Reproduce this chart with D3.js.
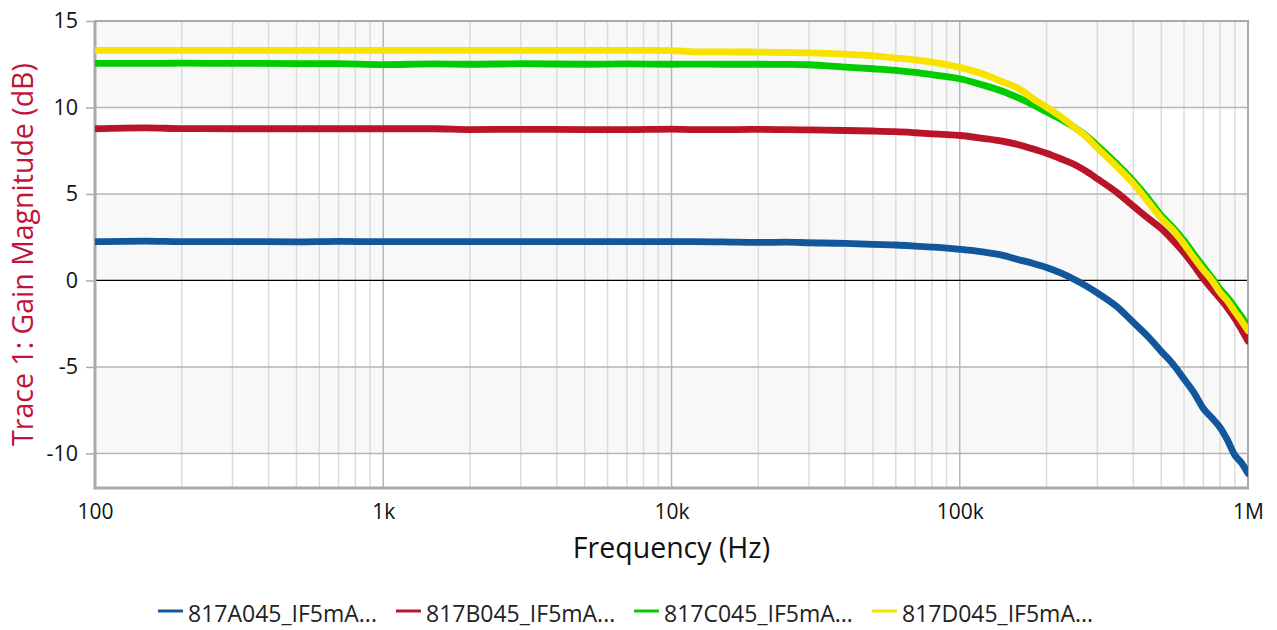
<!DOCTYPE html>
<html>
<head>
<meta charset="utf-8">
<script src="https://cdn.jsdelivr.net/npm/d3@7"></script>
<style>
  body { margin: 0; background: #fff; }
  text { font-family: "Open Sans", "Noto Sans", sans-serif; }
</style>
</head>
<body>
<div id="chart"></div>
<script>
var svgWidth = 1277;
var svgHeight = 630;

var margin = { top: 21, right: 29, bottom: 142, left: 95 };
var width = svgWidth - margin.left - margin.right;
var height = svgHeight - margin.top - margin.bottom;

// frequency points (Hz)
var freqs = [100, 150, 200, 300, 500, 700, 1e3, 1.5e3, 2e3, 3e3, 5e3, 7e3, 1e4, 1.2e4, 1.5e4, 2e4, 2.5e4, 3e4,
  4e4, 5e4, 6e4, 7e4, 8e4, 9e4, 1e5, 1.2e5, 1.4e5, 1.6e5, 1.8e5, 2e5, 2.25e5, 2.5e5, 2.75e5, 3e5,
  3.5e5, 4e5, 4.5e5, 5e5, 5.5e5, 6e5, 6.5e5, 7e5, 7.5e5, 8e5, 8.5e5, 9e5, 9.5e5, 1e6];

// gain (dB) per trace
var gainA = [2.24, 2.27, 2.24, 2.25, 2.23, 2.26, 2.24, 2.25, 2.25, 2.24, 2.25, 2.24, 2.24, 2.24, 2.23, 2.2, 2.21, 2.18,
  2.14, 2.08, 2.05, 1.99, 1.93, 1.87, 1.8, 1.65, 1.46, 1.2, 0.98, 0.75, 0.42, 0.05, -0.33, -0.72,
  -1.5, -2.42, -3.25, -4.1, -4.85, -5.7, -6.5, -7.4, -7.95, -8.5, -9.25, -10.1, -10.55, -11.15];
var gainB = [8.77, 8.82, 8.78, 8.77, 8.77, 8.77, 8.77, 8.77, 8.72, 8.74, 8.72, 8.72, 8.75, 8.72, 8.72, 8.73, 8.72, 8.7,
  8.67, 8.64, 8.6, 8.54, 8.48, 8.43, 8.38, 8.22, 8.06, 7.85, 7.6, 7.35, 7.02, 6.7, 6.3, 5.88,
  5.1, 4.3, 3.6, 3.0, 2.3, 1.6, 0.85, 0.1, -0.5, -1.05, -1.6, -2.2, -2.85, -3.5];
var gainC = [12.55, 12.55, 12.56, 12.55, 12.54, 12.53, 12.48, 12.52, 12.5, 12.53, 12.5, 12.52, 12.5, 12.51, 12.5, 12.5, 12.49, 12.47,
  12.33, 12.24, 12.15, 12.03, 11.9, 11.78, 11.66, 11.3, 10.95, 10.55, 10.15, 9.75, 9.3, 8.85, 8.35, 7.8,
  6.75, 5.75, 4.75, 3.75, 3.05, 2.3, 1.5, 0.8, 0.15, -0.5, -1.0, -1.55, -2.1, -2.65];
var gainD = [13.3, 13.3, 13.3, 13.3, 13.3, 13.3, 13.3, 13.3, 13.3, 13.3, 13.3, 13.3, 13.29, 13.22, 13.22, 13.2, 13.18, 13.16,
  13.08, 12.98, 12.86, 12.75, 12.62, 12.48, 12.32, 11.95, 11.5, 11.1, 10.5, 10.02, 9.45, 8.85, 8.3, 7.66,
  6.6, 5.6, 4.55, 3.6, 2.9, 2.1, 1.3, 0.6, 0.0, -0.7, -1.2, -1.8, -2.35, -2.9];

var seriesNames = ["817A045_IF5mA...", "817B045_IF5mA...", "817C045_IF5mA...", "817D045_IF5mA..."];
var seriesColors = ["#12569c", "#ba1428", "#00cc00", "#f7e200"];
var seriesValues = [gainA, gainB, gainC, gainD];

var xTickValues = [1e2, 1e3, 1e4, 1e5, 1e6];
var xTickLabels = ["100", "1k", "10k", "100k", "1M"];
var yTickValues = [-10, -5, 0, 5, 10, 15];
var bandRanges = [[10, 15], [0, 5], [-10, -5]];

var svg = d3.select("#chart")
  .append("svg")
  .attr("width", svgWidth)
  .attr("height", svgHeight);

var chartGroup = svg.append("g")
  .attr("transform", `translate(${margin.left}, ${margin.top})`);

var xScale = d3.scaleLog().domain([100, 1e6]).range([0, width]);
var yScale = d3.scaleLinear().domain([-12, 15]).range([height, 0]);

// shaded bands
chartGroup.selectAll(".band")
  .data(bandRanges)
  .enter()
  .append("rect")
  .attr("x", 0)
  .attr("width", width)
  .attr("y", d => yScale(d[1]))
  .attr("height", d => yScale(d[0]) - yScale(d[1]))
  .attr("fill", "#f8f8f8");

// minor vertical grid
var minorTicks = [];
for (var dec = 100; dec < 1e6; dec *= 10) {
  for (var m = 2; m <= 9; m++) minorTicks.push(dec * m);
}
chartGroup.selectAll(".minor")
  .data(minorTicks)
  .enter()
  .append("line")
  .attr("x1", d => xScale(d)).attr("x2", d => xScale(d))
  .attr("y1", 0).attr("y2", height)
  .attr("stroke", "#dcdcdc")
  .attr("stroke-width", 1.5);

// major vertical grid
chartGroup.selectAll(".major")
  .data(xTickValues)
  .enter()
  .append("line")
  .attr("x1", d => xScale(d)).attr("x2", d => xScale(d))
  .attr("y1", 0).attr("y2", height)
  .attr("stroke", "#b8b8b8")
  .attr("stroke-width", 1.5);

// horizontal grid
chartGroup.selectAll(".hgrid")
  .data(yTickValues)
  .enter()
  .append("line")
  .attr("x1", 0).attr("x2", width)
  .attr("y1", d => yScale(d)).attr("y2", d => yScale(d))
  .attr("stroke", d => d === 0 ? "#000" : "#b4b4b4")
  .attr("stroke-width", d => d === 0 ? 1.3 : 1.5);

// frame
chartGroup.append("rect")
  .attr("x", 0).attr("y", 0)
  .attr("width", width).attr("height", height)
  .attr("fill", "none")
  .attr("stroke", "#aaa")
  .attr("stroke-width", 2);
chartGroup.append("line")
  .attr("x1", 0).attr("x2", 0).attr("y1", 0).attr("y2", height + 1.5)
  .attr("stroke", "#aaa").attr("stroke-width", 3);
chartGroup.append("line")
  .attr("x1", 0).attr("x2", width + 1).attr("y1", height).attr("y2", height)
  .attr("stroke", "#aaa").attr("stroke-width", 3);

// y axis ticks + labels (plain hyphen for negatives)
var leftAxis = d3.axisLeft(yScale)
  .tickValues(yTickValues)
  .tickSize(9)
  .tickPadding(8)
  .tickFormat(d => String(d));
var yAxisG = chartGroup.append("g").call(leftAxis);
yAxisG.select(".domain").remove();
yAxisG.selectAll(".tick line").attr("stroke", "#aaa").attr("stroke-width", 1.5);
yAxisG.selectAll(".tick text")
  .attr("fill", "#111")
  .attr("font-size", 21.5)
  .style("font-family", "'Open Sans', sans-serif");

// x axis labels
var bottomAxis = d3.axisBottom(xScale)
  .tickValues(xTickValues)
  .tickSize(0)
  .tickPadding(16)
  .tickFormat((d, i) => xTickLabels[i]);
var xAxisG = chartGroup.append("g")
  .attr("transform", `translate(0, ${height})`)
  .call(bottomAxis);
xAxisG.select(".domain").remove();
xAxisG.selectAll(".tick text")
  .attr("fill", "#111")
  .attr("font-size", 21)
  .style("font-family", "'Open Sans', sans-serif");

// traces
var lineGen = d3.line()
  .x((d, i) => xScale(freqs[i]))
  .y(d => yScale(d))
  .curve(d3.curveMonotoneX);

chartGroup.append("defs").append("clipPath").attr("id", "clip")
  .append("rect").attr("x", 0).attr("y", 0).attr("width", width).attr("height", height);

chartGroup.append("g")
  .attr("clip-path", "url(#clip)")
  .selectAll("path")
  .data(seriesValues)
  .enter()
  .append("path")
  .attr("d", d => lineGen(d))
  .attr("fill", "none")
  .attr("stroke", (d, i) => seriesColors[i])
  .attr("stroke-width", 6.8)
  .attr("stroke-linejoin", "round")
  .attr("stroke-linecap", "round");

// axis titles
svg.append("text")
  .attr("transform", `translate(33, ${margin.top + height / 2}) rotate(-90)`)
  .attr("text-anchor", "middle")
  .attr("fill", "#c0143c")
  .attr("font-size", 28.5)
  .text("Trace 1: Gain Magnitude (dB)");

svg.append("text")
  .attr("x", margin.left + width / 2)
  .attr("y", 558)
  .attr("text-anchor", "middle")
  .attr("fill", "#111")
  .attr("font-size", 28.5)
  .text("Frequency (Hz)");

// legend
var legendX = [158, 396, 634, 872];
var legend = svg.selectAll(".legend")
  .data(seriesNames)
  .enter()
  .append("g")
  .attr("transform", (d, i) => `translate(${legendX[i]}, 622)`);
legend.append("line")
  .attr("x1", 0).attr("x2", 25).attr("y1", -11).attr("y2", -11)
  .attr("stroke", (d, i) => seriesColors[i])
  .attr("stroke-width", 3);
legend.append("text")
  .attr("x", 30)
  .attr("y", 0)
  .attr("fill", "#222")
  .attr("font-size", 23)
  .text(d => d);
</script>
</body>
</html>
